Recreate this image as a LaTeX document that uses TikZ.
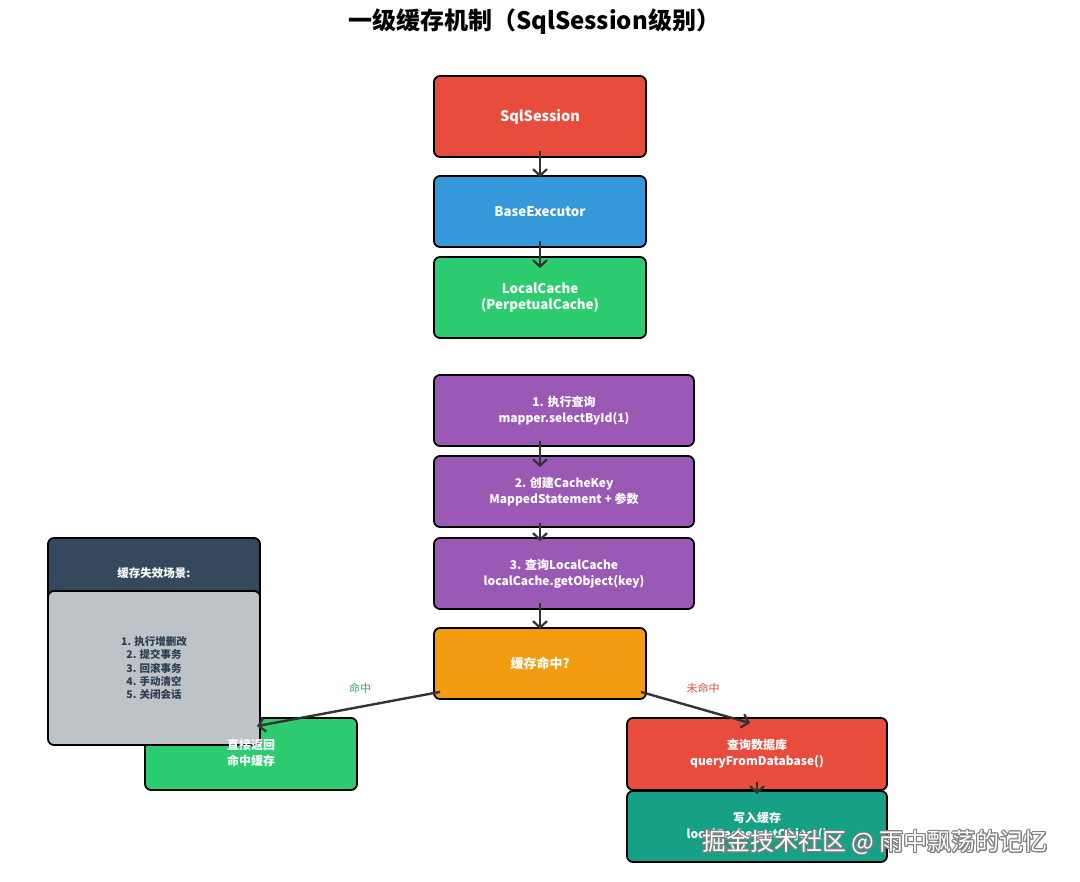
\documentclass[tikz,border=0pt]{standalone}
\usepackage{fontspec}
\setmainfont{Noto Sans CJK SC}
\usepackage[copies]{contour}
\usetikzlibrary{arrows.meta,calc}
\definecolor{cred}{HTML}{E74C3C}
\definecolor{cblue}{HTML}{3498DB}
\definecolor{cgreen}{HTML}{2ECC71}
\definecolor{cpurple}{HTML}{9B59B6}
\definecolor{corange}{HTML}{F39C12}
\definecolor{cteal}{HTML}{16A085}
\definecolor{cdark}{HTML}{34495E}
\definecolor{cgray}{HTML}{BDC3C7}
\definecolor{ctext}{HTML}{2C3E50}
\definecolor{carrow}{HTML}{333333}
\definecolor{lgreen}{HTML}{27AE60}
\tikzset{
  box/.style={draw=black, line width=1.8pt, rounded corners=6pt, rectangle, inner sep=0pt,
    text=white, font=\bfseries\fontsize{12}{16}\selectfont, align=center},
  bigtext/.style={font=\bfseries\fontsize{13.3}{16}\selectfont},
  lbl/.style={text=white, font=\bfseries\fontsize{12}{16}\selectfont, align=center, inner sep=0pt},
  arr/.style={draw=carrow, line width=2.4pt, -{Straight Barb[length=6.5pt,width=14pt,line width=2.2pt]}},
  edgelbl/.style={font=\fontsize{11}{13}\selectfont, inner sep=0pt},
}
\begin{document}
\begin{tikzpicture}[x=1pt,y=-1pt]
\useasboundingbox[fill=white] (0,0) rectangle (1080,882);
\node[font=\bfseries\fontsize{24}{28}\selectfont] (title) at (534,22) {一级缓存机制（SqlSession级别）};
% top structure
\node[box, fill=cred, minimum width=212pt, minimum height=81pt, font=\bfseries\fontsize{14.5}{18}\selectfont] (s) at (540,116.5) {SqlSession};
\node[box, bigtext, fill=cblue, minimum width=212pt, minimum height=71pt] (b) at (540,211.5) {BaseExecutor};
\node[box, bigtext, fill=cgreen, minimum width=212pt, minimum height=81pt] (l) at (540,297.5) {LocalCache\\(PerpetualCache)};
% steps
\node[box, fill=cpurple, minimum width=260pt, minimum height=71pt] (st1) at (564,410.5) {1. 执行查询\\mapper.selectById(1)};
\node[box, fill=cpurple, minimum width=260pt, minimum height=71pt] (st2) at (564,491.5) {2. 创建CacheKey\\MappedStatement + 参数};
\node[box, fill=cpurple, minimum width=260pt, minimum height=71pt] (st3) at (564,573.5) {3. 查询LocalCache\\localCache.getObject(key)};
\node[box, fill=corange, minimum width=212pt, minimum height=71pt, font=\bfseries\fontsize{13}{16}\selectfont] (o) at (540,663.5) {缓存命中?};
% outcomes
\node[box, fill=cgreen, minimum width=212pt, minimum height=72pt] (d) at (251,754) {};
\node[box, fill=cred, minimum width=260pt, minimum height=72pt] (q) at (757,754) {查询数据库\\queryFromDatabase()};
\node[box, fill=cteal, minimum width=260pt, minimum height=71pt] (w) at (757,826.5) {写入缓存\\localCache.putObject()};
% invalidation box
\node[box, fill=cdark, minimum width=212pt, minimum height=72pt] (h) at (154,574) {};
\node[lbl, font=\bfseries\fontsize{11.5}{14}\selectfont] (ht) at (154,573) {缓存失效场景:};
\node[box, fill=cgray, minimum width=212pt, minimum height=154pt, text=ctext,
  font=\bfseries\fontsize{10.5}{13.3}\selectfont] (g) at (154,668) {1. 执行增删改\\2. 提交事务\\3. 回滚事务\\4. 手动清空\\5. 关闭会话};
\node[lbl] (dt) at (251,753) {直接返回\\命中缓存};
% arrows
\draw[arr] ([yshift=7pt]s.south) -- ([yshift=-2pt]b.north);
\draw[arr] ([yshift=7pt]b.south) -- ([yshift=-12pt]l.north);
\draw[arr] ($(st1.south -| o.north)+(0,-6)$) -- ($(st2.north -| o.north)+(0,12)$);
\draw[arr] ($(st2.south -| o.north)+(0,-5)$) -- ($(st3.north -| o.north)+(0,4)$);
\draw[arr] ($(st3.south -| o.north)+(0,-7)$) -- ([yshift=-2pt]o.north);
\draw[arr] ([xshift=7pt,yshift=8pt]o.south west) -- ([xshift=6pt,yshift=-9pt]d.north);
\draw[arr] ([xshift=-6pt,yshift=8pt]o.south east) -- ([xshift=-7pt,yshift=-6pt]q.north);
\draw[arr] ([yshift=9pt]q.south) -- ([yshift=-4pt]w.north);
\node[edgelbl, text=lgreen] (hit) at (360,688) {命中};
\node[edgelbl, text=cred] (miss) at (703,688) {未命中};
% watermark
\contourlength{0.9pt}
\node[font=\fontsize{24}{27}\selectfont, text=white, inner sep=0pt] (wm) at (875,843) {\contour{gray}{掘金技术社区 @ 雨中飘荡的记忆}};
\end{tikzpicture}
\end{document}
